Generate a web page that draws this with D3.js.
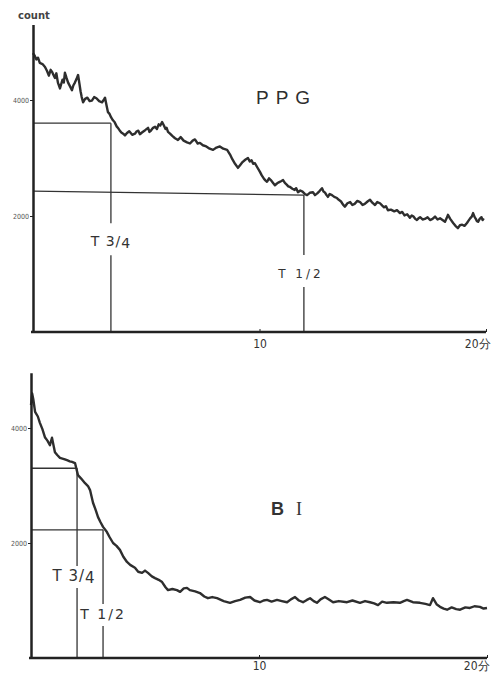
<!DOCTYPE html>
<html>
<head>
<meta charset="utf-8">
<script src="https://cdn.jsdelivr.net/npm/d3@7"></script>
<style>
  body{margin:0;background:#fff;}
  svg{display:block;}
  .axis path,.axis line{stroke:#222;}
</style>
</head>
<body>
<script>
// count readings, [minutes, count]
var ppgTrace = [[0,4810],[0.08,4760],[0.15,4700],[0.22,4730],[0.3,4640],[0.42,4620],[0.53,4570],[0.62,4500],[0.7,4420],[0.78,4520],
  [0.85,4480],[0.92,4420],[0.97,4380],[1.03,4460],[1.1,4300],[1.19,4200],[1.25,4280],[1.3,4350],[1.36,4300],[1.41,4470],
  [1.48,4380],[1.55,4300],[1.63,4240],[1.72,4170],[1.78,4250],[1.85,4300],[1.92,4360],[1.99,4430],[2.05,4280],[2.1,4150],
  [2.15,4050],[2.21,3960],[2.3,4020],[2.4,4040],[2.5,3980],[2.6,3990],[2.7,4050],[2.8,4030],[2.92,3980],[3.05,3960],
  [3.12,4000],[3.18,4040],[3.25,3900],[3.31,3790],[3.38,3760],[3.45,3700],[3.53,3650],[3.6,3620],[3.65,3580],[3.7,3540],
  [3.75,3520],[3.82,3480],[3.9,3440],[3.98,3420],[4.06,3390],[4.15,3430],[4.25,3460],[4.38,3400],[4.5,3420],[4.58,3460],
  [4.65,3470],[4.72,3410],[4.81,3440],[4.95,3480],[5.08,3520],[5.14,3450],[5.2,3470],[5.3,3520],[5.39,3540],[5.47,3500],
  [5.55,3580],[5.62,3560],[5.7,3620],[5.78,3560],[5.85,3500],[5.9,3520],[5.96,3450],[6.05,3420],[6.15,3380],[6.27,3340],
  [6.4,3310],[6.52,3360],[6.65,3300],[6.8,3270],[6.93,3250],[7.05,3300],[7.15,3320],[7.27,3250],[7.37,3260],[7.5,3220],
  [7.65,3200],[7.8,3160],[7.95,3140],[8.1,3180],[8.25,3200],[8.4,3160],[8.57,3140],[8.7,3060],[8.8,2980],[8.92,2900],
  [9.05,2830],[9.15,2880],[9.25,2930],[9.37,2970],[9.49,3000],[9.57,2940],[9.65,2960],[9.72,2900],[9.8,2910],[9.9,2840],
  [10.02,2760],[10.1,2700],[10.2,2640],[10.27,2610],[10.33,2590],[10.42,2650],[10.5,2620],[10.6,2570],[10.68,2530],[10.77,2560],
  [10.85,2580],[10.95,2600],[11.04,2620],[11.12,2570],[11.2,2540],[11.27,2510],[11.35,2500],[11.45,2470],[11.55,2450],[11.62,2480],
  [11.7,2410],[11.8,2440],[11.9,2420],[12,2380],[12.1,2360],[12.22,2400],[12.36,2410],[12.45,2360],[12.55,2390],[12.65,2430],
  [12.76,2480],[12.83,2420],[12.9,2400],[12.96,2360],[13.02,2330],[13.1,2380],[13.2,2360],[13.3,2330],[13.42,2310],[13.5,2280],
  [13.6,2250],[13.68,2200],[13.77,2160],[13.88,2220],[14,2240],[14.1,2190],[14.2,2210],[14.32,2260],[14.44,2240],[14.55,2190],
  [14.65,2210],[14.77,2250],[14.88,2280],[14.98,2230],[15.1,2190],[15.2,2240],[15.32,2220],[15.42,2180],[15.5,2150],[15.58,2170],
  [15.67,2100],[15.8,2110],[15.95,2080],[16.07,2100],[16.2,2050],[16.3,2070],[16.4,2010],[16.52,2030],[16.64,1970],[16.72,2010],
  [16.8,1990],[16.88,1950],[16.95,1930],[17.02,1960],[17.09,1980],[17.2,1940],[17.3,1950],[17.42,1980],[17.53,1930],[17.64,1950],
  [17.75,1990],[17.86,1940],[17.97,1960],[18.08,1930],[18.19,1900],[18.26,1960],[18.32,2020],[18.42,1950],[18.55,1880],[18.65,1830],
  [18.76,1790],[18.85,1840],[18.95,1850],[19.05,1830],[19.16,1880],[19.23,1920],[19.3,1960],[19.37,1990],[19.43,2050],[19.5,1980],
  [19.55,1950],[19.6,1910],[19.65,1900],[19.72,1950],[19.8,1980],[19.85,1930],[19.9,1960]];

var biTrace = [[0,4400],[0.05,4600],[0.1,4500],[0.18,4280],[0.3,4200],[0.39,4090],[0.5,3980],[0.61,3840],[0.72,3780],[0.83,3700],
  [0.92,3830],[1.05,3580],[1.15,3530],[1.27,3480],[1.45,3460],[1.58,3440],[1.7,3420],[1.8,3410],[1.93,3390],[2.06,3180],
  [2.2,3120],[2.37,3040],[2.5,2990],[2.59,2920],[2.72,2700],[2.85,2560],[2.94,2450],[3.05,2360],[3.16,2280],[3.33,2190],
  [3.45,2100],[3.6,2000],[3.75,1950],[3.9,1880],[4.05,1760],[4.21,1670],[4.35,1620],[4.56,1570],[4.7,1500],[4.87,1480],
  [5,1520],[5.13,1480],[5.3,1420],[5.44,1390],[5.6,1360],[5.75,1320],[5.9,1230],[6.01,1180],[6.2,1200],[6.4,1180],
  [6.54,1150],[6.7,1210],[6.84,1220],[6.97,1180],[7.2,1160],[7.41,1130],[7.6,1070],[7.76,1040],[7.95,1060],[8.16,1040],
  [8.45,990],[8.73,960],[8.95,990],[9.17,1010],[9.4,1050],[9.61,1060],[9.8,1000],[10.04,970],[10.2,1000],[10.35,1010],
  [10.55,980],[10.79,1010],[11,990],[11.23,970],[11.4,1020],[11.58,1060],[11.75,1000],[11.93,970],[12.1,1010],[12.24,1040],
  [12.4,990],[12.54,960],[12.7,1020],[12.89,1060],[13.05,1020],[13.25,970],[13.5,990],[13.86,970],[14.1,1000],[14.43,960],
  [14.65,990],[14.87,970],[15.05,950],[15.22,920],[15.4,980],[15.61,960],[15.9,970],[16.18,960],[16.35,990],[16.49,1010],
  [16.75,970],[17.06,960],[17.3,940],[17.5,920],[17.63,1040],[17.8,930],[17.94,890],[18.1,860],[18.25,840],[18.45,880],
  [18.65,850],[18.82,840],[19.05,880],[19.25,870],[19.45,900],[19.69,890],[19.85,860],[20,870]];

// half-time markers: [minutes, count at y-axis, count at the crossing, count where the label sits]
var ppgT34 = [3.44, 3600, 3600, 1480];
var ppgT12 = [11.96, 2430, 2360, 930];
var biT34 = [2.02, 3300, 3300, 1340];
var biT12 = [3.16, 2230, 2230, 680];

var countTicks = [2000, 4000];
var timeTicks = [10, 20];
var timeLabels = {10:'10', 20:'20分'};

var svg = d3.select('body').append('svg').attr('width', 500).attr('height', 678);

var line = d3.line().x(function(d){ return d[0]; }).y(function(d){ return d[1]; });

function panel(p){
  var x = d3.scaleLinear().domain([0, 20]).range([p.left, p.right]);
  var y = d3.scaleLinear().domain([0, p.top]).range([p.bottom, p.topPx]);
  var g = svg.append('g');

  // marker lines first, trace drawn over them
  [p.t34, p.t12].forEach(function(m, i){
    var ly = y(m[3]);
    g.append('line').attr('x1', x(0)).attr('y1', y(m[1])).attr('x2', x(m[0])).attr('y2', y(m[2]))
      .attr('stroke', '#333').attr('stroke-width', 1.3);
    g.append('line').attr('x1', x(m[0])).attr('y1', y(m[2])).attr('x2', x(m[0])).attr('y2', ly - p.gap[0])
      .attr('stroke', '#333').attr('stroke-width', 1.3);
    g.append('line').attr('x1', x(m[0])).attr('y1', ly + p.gap[1]).attr('x2', x(m[0])).attr('y2', y(0))
      .attr('stroke', '#333').attr('stroke-width', 1.3);
    var t = g.append('text').attr('x', x(m[0]) + p.labDx[i]).attr('y', ly)
      .attr('text-anchor', 'middle').attr('fill', '#333')
      .style('font-family', 'DejaVu Sans, sans-serif').style('font-size', p.labSize[i] + 'px')
      .style('letter-spacing', p.labSpace[i] + 'px');
    t.append('tspan').text('T ');
    if(i == 0){
      t.append('tspan').text('3/');
      t.append('tspan').attr('dy', 2).text('4');
    } else {
      t.append('tspan').text('1/2');
    }
  });

  g.append('path').datum(p.data.map(function(d){ return [x(d[0]), y(d[1])]; }))
    .attr('d', line).attr('fill', 'none').attr('stroke', '#2e2e2e')
    .attr('stroke-width', 2.4).attr('stroke-linejoin', 'round');

  var ya = g.append('g').attr('class', 'axis').attr('transform', 'translate(' + p.left + ',0)')
    .call(d3.axisLeft(y).tickValues(countTicks).tickSize(3).tickSizeOuter(0).tickPadding(1)
      .tickFormat(d3.format('d')));
  ya.select('.domain').attr('stroke-width', 2.5);
  ya.selectAll('text').style('font-family', 'DejaVu Sans Condensed, DejaVu Sans, sans-serif')
    .style('font-size', '7px').style('fill', '#555');

  var xa = g.append('g').attr('class', 'axis').attr('transform', 'translate(0,' + p.bottom + ')')
    .call(d3.axisBottom(x).tickValues(timeTicks).tickSize(-3).tickSizeOuter(0).tickPadding(p.xPad)
      .tickFormat(function(d){ return timeLabels[d]; }));
  xa.select('.domain').attr('stroke-width', 2.5).attr('d', 'M' + (p.left - 2) + ',0H' + p.right);
  xa.selectAll('text').style('font-family', 'DejaVu Sans Condensed, DejaVu Sans, sans-serif')
    .style('font-size', '12px').style('fill', '#333')
    .attr('text-anchor', function(d){ return d == 20 ? 'end' : 'middle'; })
    .attr('dx', function(d){ return d == 20 ? p.endDx : 0; });
  return g;
}

panel({data: ppgTrace, left: 33, right: 486, bottom: 332, topPx: 24.6, top: 5300,
  t34: ppgT34, t12: ppgT12, gap: [23, 9], labDx: [0, -3], labSize: [14, 12], labSpace: [1, 3], xPad: 7.5, endDx: 4});
panel({data: biTrace, left: 31, right: 487, bottom: 658, topPx: 372.8, top: 4960,
  t34: biT34, t12: biT12, gap: [15, 7], labDx: [-3, 0], labSize: [15, 14], labSpace: [1, 2], xPad: 3.5, endDx: 2});

svg.append('text').attr('x', 18).attr('y', 19).text('count')
  .attr('fill', '#444').style('font-family', 'DejaVu Sans, sans-serif')
  .style('font-size', '10px').style('font-weight', 'bold');

svg.append('text').attr('x', 256).attr('y', 104).text('PPG')
  .attr('fill', '#2e2e2e').style('font-family', 'Liberation Sans, Arial, sans-serif')
  .style('font-size', '19px').style('letter-spacing', '7px');

svg.append('text').attr('x', 271).attr('y', 515).text('B')
  .attr('fill', '#333').style('font-family', 'Liberation Sans, Arial, sans-serif')
  .style('font-size', '18px').style('font-weight', 'bold');
svg.append('text').attr('x', 296).attr('y', 515).text('I')
  .attr('fill', '#333').style('font-family', 'Liberation Serif, serif')
  .style('font-size', '18px');
</script>
</body>
</html>
